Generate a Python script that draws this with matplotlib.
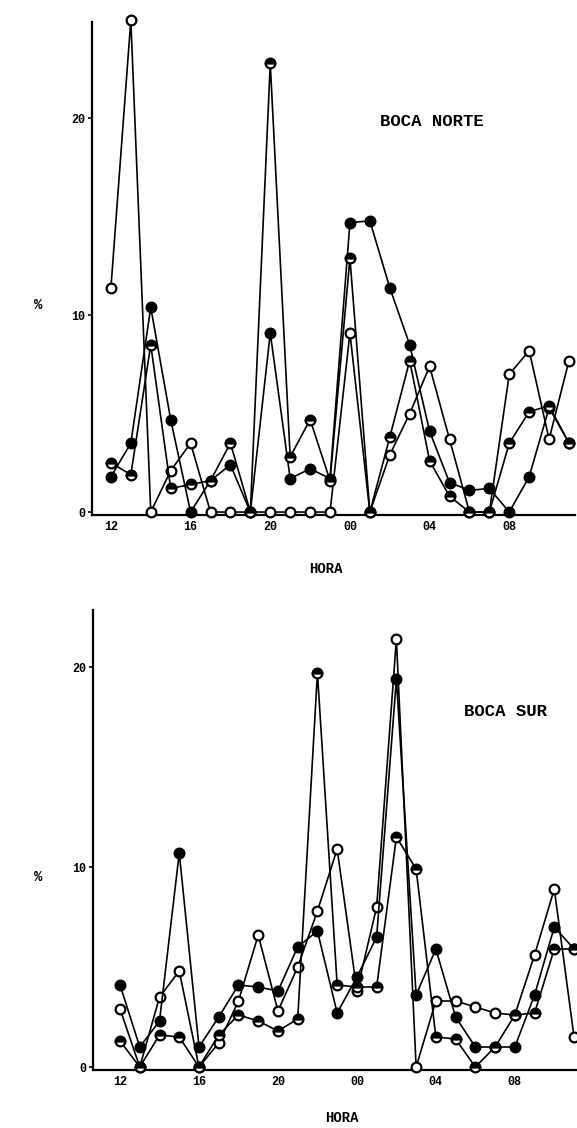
import matplotlib
matplotlib.use("Agg")
import matplotlib.pyplot as plt

# hourly samples, starting at 12 h and running through the night
hour_idx = list(range(24))
tick_pos = [0, 4, 8, 12, 16, 20]
tick_labels = ["12", "16", "20", "00", "04", "08"]
y_ticks = [0, 10, 20]

# Boca Norte (%)
norte_open = [11.4, 25.0, 0.0, 2.1, 3.5, 0.0, 0.0, 0.0, 0.0, 0.0, 0.0, 0.0,
              9.1, 0.0, 2.9, 5.0, 7.4, 3.7, 0.0, 0.0, 7.0, 8.2, 3.7, 7.7]
norte_filled = [1.8, 3.5, 10.4, 4.7, 0.0, 1.6, 2.4, 0.0, 9.1, 1.7, 2.2, 1.7,
                14.7, 14.8, 11.4, 8.5, 4.1, 1.5, 1.1, 1.2, 0.0, 1.8, 5.3, 3.5]
norte_half = [2.5, 1.9, 8.5, 1.2, 1.4, 1.6, 3.5, 0.0, 22.8, 2.8, 4.7, 1.6,
              12.9, 0.0, 3.8, 7.7, 2.6, 0.8, 0.0, 0.0, 3.5, 5.1, 5.4, 3.5]

# Boca Sur (%)
sur_open = [2.9, 0.0, 3.5, 4.8, 0.0, 1.2, 3.3, 6.6, 2.8, 5.0, 7.8, 10.9,
            3.8, 8.0, 21.4, 0.0, 3.3, 3.3, 3.0, 2.7, 2.6, 5.6, 8.9, 1.5]
sur_filled = [4.1, 1.0, 2.3, 10.7, 1.0, 2.5, 4.1, 4.0, 3.8, 6.0, 6.8, 2.7,
              4.5, 6.5, 19.4, 3.6, 5.9, 2.5, 1.0, 1.0, 1.0, 3.6, 7.0, 5.9]
sur_half = [1.3, 0.0, 1.6, 1.5, 0.0, 1.6, 2.6, 2.3, 1.8, 2.4, 19.7, 4.1,
            4.0, 4.0, 11.5, 9.9, 1.5, 1.4, 0.0, 1.0, 2.6, 2.7, 5.9, 5.9]

FONT = "Liberation Mono"

fig = plt.figure(figsize=(5.77, 11.28), dpi=100)
W, H = 577.0, 1128.0


def panel(rect, xlim, ylim, series, title, title_xy, hora_xy, pct_xy):
    ax = fig.add_axes(rect)
    styles = [
        dict(marker="o", markerfacecolor="white"),
        dict(marker="o", markerfacecolor="black"),
        dict(marker="o", fillstyle="top", markerfacecolor="black",
             markerfacecoloralt="white"),
    ]
    for vals, st in zip(series, styles):
        ax.plot(hour_idx, vals, color="black", lw=1.2, markersize=7,
                markeredgewidth=1.6, markeredgecolor="black", clip_on=False,
                zorder=3, **st)
    ax.set_xlim(*xlim)
    ax.set_ylim(*ylim)
    for s in ["top", "right"]:
        ax.spines[s].set_visible(False)
    for s in ["left", "bottom"]:
        ax.spines[s].set_linewidth(1.6)
    ax.set_xticks(tick_pos)
    ax.set_xticklabels(tick_labels)
    ax.set_yticks(y_ticks)
    ax.tick_params(axis="y", direction="out", length=3, width=1.2,
                   labelsize=8.5, pad=2)
    ax.tick_params(axis="x", length=0, labelsize=8.5, pad=4)
    for lab in ax.get_xticklabels() + ax.get_yticklabels():
        lab.set_fontfamily(FONT)
        lab.set_fontweight("bold")
    ax.patch.set_alpha(0)
    fig.text(title_xy[0] / W, 1 - title_xy[1] / H, title, fontsize=12.5,
             fontweight="bold", family=FONT, ha="center", va="center")
    fig.text(hora_xy[0] / W, 1 - hora_xy[1] / H, "HORA", fontsize=10,
             fontweight="bold", family=FONT, ha="center", va="center")
    fig.text(pct_xy[0] / W, 1 - pct_xy[1] / H, "%", fontsize=10,
             fontweight="bold", family=FONT, ha="center", va="center")
    return ax


# top panel: axes from x=92..575 px, y=22..515 px
panel([92 / W, 1 - 515 / H, 483 / W, 493 / H], (-0.95, 23.3), (-0.15, 24.9),
      [norte_open, norte_filled, norte_half], "BOCA NORTE",
      (432, 121), (326, 569), (38, 305))

# bottom panel: axes from x=93..577 px, y=610..1070 px
panel([93 / W, 1 - 1070 / H, 484 / W, 460 / H], (-1.37, 23.15), (-0.15, 22.85),
      [sur_open, sur_filled, sur_half], "BOCA SUR",
      (505, 711), (342, 1118), (38, 877))

fig.savefig("out.png", dpi=100, facecolor="white")
